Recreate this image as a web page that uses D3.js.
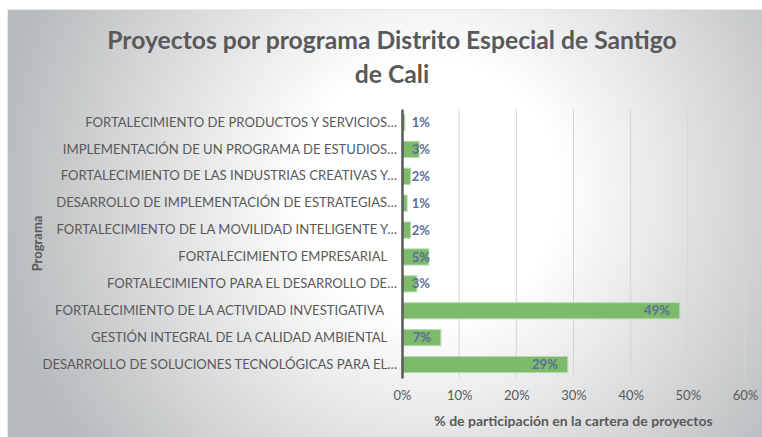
<!DOCTYPE html>
<html>
<head>
<meta charset="utf-8">
<script src="https://cdn.jsdelivr.net/npm/d3@7"></script>
<style>
  body { margin: 0; background: #fff; }
  svg { display: block; font-family: Lato, "Open Sans", sans-serif; }
</style>
</head>
<body>
<div id="chart"></div>
<script>
// data, listed top to bottom
var programas = [
    "FORTALECIMIENTO DE PRODUCTOS Y SERVICIOS…",
    "IMPLEMENTACIÓN DE UN PROGRAMA DE ESTUDIOS…",
    "FORTALECIMIENTO DE LAS INDUSTRIAS CREATIVAS Y…",
    "DESARROLLO DE IMPLEMENTACIÓN DE ESTRATEGIAS…",
    "FORTALECIMIENTO DE LA MOVILIDAD INTELIGENTE Y…",
    "FORTALECIMIENTO EMPRESARIAL\u00a0\u00a0\u00a0",
    "FORTALECIMIENTO PARA EL DESARROLLO DE…",
    "FORTALECIMIENTO DE LA ACTIVIDAD INVESTIGATIVA\u00a0\u00a0\u00a0\u00a0",
    "GESTIÓN INTEGRAL DE LA CALIDAD AMBIENTAL\u00a0\u00a0\u00a0",
    "DESARROLLO DE SOLUCIONES TECNOLÓGICAS PARA EL…"
];
var participacion = [0.5, 3.0, 1.5, 0.9, 1.5, 4.7, 2.6, 48.6, 6.8, 29.0];
var etiquetas = ["1%", "3%", "2%", "1%", "2%", "5%", "3%", "49%", "7%", "29%"];
var xTicks = [0, 10, 20, 30, 40, 50, 60];

var W = 762, H = 437;
var margin = { top: 109, right: 17, bottom: 59, left: 402 };
var width = W - margin.left - margin.right;
var height = H - margin.top - margin.bottom;

var svg = d3.select("#chart").append("svg")
    .attr("width", W)
    .attr("height", H);

// background with radial gradient like the office chart style
var defs = svg.append("defs");
var grad = defs.append("radialGradient")
    .attr("id", "bg")
    .attr("gradientUnits", "userSpaceOnUse")
    .attr("cx", 430).attr("cy", 190).attr("r", 430);
grad.append("stop").attr("offset", "0%").attr("stop-color", "#ffffff");
grad.append("stop").attr("offset", "30%").attr("stop-color", "#ffffff");
grad.append("stop").attr("offset", "100%").attr("stop-color", "#b8bbbd");

svg.append("rect")
    .attr("x", 7.5).attr("y", 9.5)
    .attr("width", W).attr("height", H)
    .attr("fill", "url(#bg)")
    .attr("stroke", "#e8e8e8");

var g = svg.append("g")
    .attr("transform", "translate(" + margin.left + "," + margin.top + ")");

var x = d3.scaleLinear().domain([0, 60]).range([0, width]);
var y = d3.scaleBand().domain(programas).range([0, height]).paddingInner(0.4).paddingOuter(0.2);

// gridlines
g.append("g")
    .selectAll("line")
    .data(xTicks.slice(1))
    .join("line")
        .attr("x1", d => x(d)).attr("x2", d => x(d))
        .attr("y1", 0).attr("y2", height)
        .attr("stroke", "#d4d4d4")
        .attr("stroke-width", 1);

// bars
g.append("g")
    .selectAll("rect")
    .data(participacion)
    .join("rect")
        .attr("x", 0)
        .attr("y", (d, i) => y(programas[i]))
        .attr("width", d => x(d))
        .attr("height", y.bandwidth())
        .attr("fill", "#7dbb6b")
        .attr("stroke", "#b9dcae")
        .attr("stroke-width", 1);

// value labels
g.append("g")
    .selectAll("text")
    .data(participacion)
    .join("text")
        .attr("x", d => Math.max(x(d) - 10, 28))
        .attr("y", (d, i) => y(programas[i]) + y.bandwidth() / 2)
        .attr("dy", "0.35em")
        .attr("text-anchor", "end")
        .style("font-size", "13px")
        .style("font-weight", "bold")
        .style("fill", "#5a6e96")
        .text((d, i) => etiquetas[i]);

// y axis
var yAxis = g.append("g")
    .call(d3.axisLeft(y).tickSize(0).tickPadding(5));
yAxis.select(".domain").attr("stroke", "#5a5a5a").attr("stroke-width", 2.5);
yAxis.selectAll("text")
    .style("font-size", "13.1px")
    .style("font-family", "Lato, sans-serif")
    .style("fill", "#595959");

// x axis
var xAxis = g.append("g")
    .attr("transform", "translate(0," + height + ")")
    .call(d3.axisBottom(x).tickValues(xTicks).tickSize(0).tickPadding(13).tickFormat(d => d + "%"));
xAxis.select(".domain").remove();
xAxis.selectAll("text")
    .style("font-size", "13px")
    .style("font-family", "Lato, sans-serif")
    .style("fill", "#595959");

// axis titles
g.append("text")
    .attr("x", width / 2)
    .attr("y", height + 48)
    .style("text-anchor", "middle")
    .style("font-size", "14px")
    .style("font-weight", "bold")
    .style("fill", "#595959")
    .text("% de participación en la cartera de proyectos");

g.append("text")
    .attr("transform", "rotate(-90)")
    .attr("x", -height / 2)
    .attr("y", 37 - margin.left)
    .attr("dy", "0.35em")
    .style("text-anchor", "middle")
    .style("font-size", "13px")
    .style("font-weight", "bold")
    .style("fill", "#595959")
    .text("Programa");

// title
var title = svg.append("text")
    .attr("text-anchor", "middle")
    .style("font-size", "24.7px")
    .style("font-weight", "bold")
    .style("fill", "#595959");
title.append("tspan").attr("x", 392).attr("y", 49).text("Proyectos por programa Distrito Especial de Santigo");
title.append("tspan").attr("x", 392).attr("y", 83).text("de Cali");
</script>
</body>
</html>
